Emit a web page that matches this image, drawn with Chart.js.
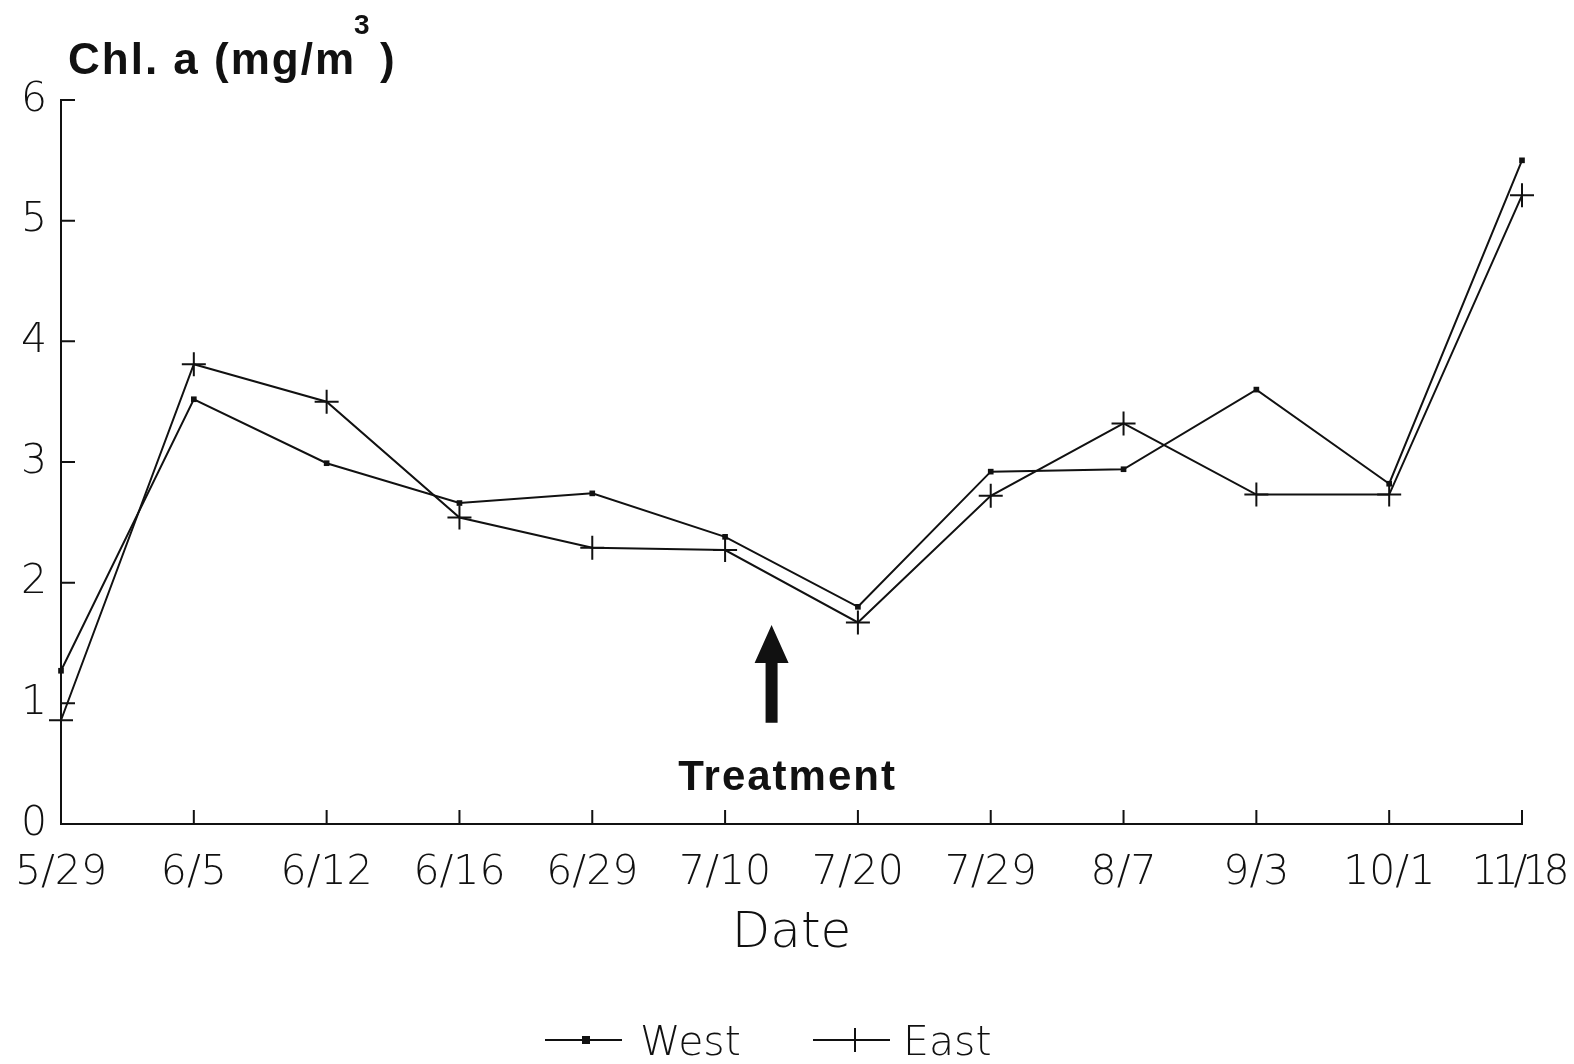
<!DOCTYPE html>
<html>
<head>
<meta charset="utf-8">
<script src="https://cdn.jsdelivr.net/npm/chart.js@4/dist/chart.umd.min.js"></script>
<style>
    html, body { margin: 0; padding: 0; background: #fff; }
    #wrap { width: 1574px; height: 1064px; position: relative; }
</style>
</head>
<body>
<div id="wrap"><canvas id="chl-chart"></canvas></div>
<script>
const DATES = ["5/29", "6/5", "6/12", "6/16", "6/29", "7/10", "7/20", "7/29", "8/7", "9/3", "10/1", "11/18"];
const WEST = [1.27, 3.52, 2.99, 2.66, 2.74, 2.38, 1.80, 2.92, 2.94, 3.60, 2.82, 5.50];
const EAST = [0.86, 3.81, 3.50, 2.54, 2.29, 2.27, 1.67, 2.72, 3.32, 2.73, 2.73, 5.21];
const Y_TICKS = [0, 1, 2, 3, 4, 5, 6];

const INK = "#111";
const LIGHT_FONT = "'DejaVu Sans', sans-serif";
const BOLD_FONT = "'Liberation Sans', Arial, sans-serif";
const LAST = DATES.length - 1;

// inward tick marks on both axes
const inwardTicks = {
    id: "inwardTicks",
    afterDraw(chart) {
        const ctx = chart.ctx;
        const x = chart.scales.x;
        const y = chart.scales.y;
        const area = chart.chartArea;
        ctx.save();
        ctx.strokeStyle = INK;
        ctx.lineWidth = 2;
        ctx.beginPath();
        x.ticks.forEach((t, i) => {
            const px = x.getPixelForTick(i);
            ctx.moveTo(px, area.bottom);
            ctx.lineTo(px, area.bottom - 14);
        });
        y.ticks.forEach((t, i) => {
            const py = y.getPixelForTick(i);
            ctx.moveTo(area.left, py);
            ctx.lineTo(area.left + 14, py);
        });
        ctx.stroke();

        // last date label sits against the canvas edge: redraw it a bit tighter
        const item = x.getLabelItems()[LAST];
        if (item) {
            const t = item.options.translation;
            ctx.translate(t[0], t[1]);
            ctx.rotate(item.options.rotation || 0);
            ctx.font = item.font.string;
            ctx.fillStyle = INK;
            ctx.textAlign = item.options.textAlign;
            ctx.textBaseline = item.options.textBaseline;
            ctx.letterSpacing = "-5px";
            ctx.fillText(item.label, -4, item.textOffset);
        }
        ctx.restore();
    }
};

// y-axis title with superscript, x title, treatment arrow and the legend row
const annotations = {
    id: "annotations",
    afterDraw(chart) {
        const ctx = chart.ctx;
        const x = chart.scales.x;
        const y = chart.scales.y;
        ctx.save();
        ctx.fillStyle = INK;
        ctx.textBaseline = "alphabetic";

        // title
        ctx.letterSpacing = "2px";
        ctx.font = "bold 44px " + BOLD_FONT;
        ctx.textAlign = "left";
        const base = "Chl. a (mg/m";
        ctx.fillText(base, 68, 74);
        const w = ctx.measureText(base).width;
        ctx.font = "bold 28px " + BOLD_FONT;
        ctx.fillText("3", 68 + w - 2, 34);
        ctx.font = "bold 44px " + BOLD_FONT;
        ctx.fillText(")", 68 + w + 24, 74);

        // treatment arrow between 7/10 and 7/20
        const ax = x.getPixelForValue(5) + (x.getPixelForValue(6) - x.getPixelForValue(5)) * 0.35;
        const tip = y.getPixelForValue(1.65);
        const tail = y.getPixelForValue(0.84);
        ctx.beginPath();
        ctx.moveTo(ax, tip);
        ctx.lineTo(ax + 17, tip + 38);
        ctx.lineTo(ax + 6, tip + 38);
        ctx.lineTo(ax + 6, tail);
        ctx.lineTo(ax - 6, tail);
        ctx.lineTo(ax - 6, tip + 38);
        ctx.lineTo(ax - 17, tip + 38);
        ctx.closePath();
        ctx.fill();

        ctx.font = "bold 42px " + BOLD_FONT;
        ctx.letterSpacing = "2px";
        ctx.textAlign = "center";
        ctx.fillText("Treatment", ax + 16, 790);
        ctx.letterSpacing = "0px";

        // x title
        ctx.font = "200 50px " + LIGHT_FONT;
        ctx.fillText("Date", (x.left + x.right) / 2, 947);

        // legend
        const ly = 1040;
        ctx.strokeStyle = INK;
        ctx.lineWidth = 2;
        ctx.beginPath();
        ctx.moveTo(545, ly);
        ctx.lineTo(622, ly);
        ctx.moveTo(813, ly);
        ctx.lineTo(890, ly);
        ctx.moveTo(855, ly - 12);
        ctx.lineTo(855, ly + 12);
        ctx.stroke();
        ctx.fillRect(582, ly - 4, 8, 8);

        ctx.font = "200 41px " + LIGHT_FONT;
        ctx.textAlign = "left";
        ctx.fillText("West", 640, ly + 15);
        ctx.fillText("East", 903, ly + 15);
        ctx.restore();
    }
};

const ctx = document.querySelector("#chl-chart").getContext("2d");
new Chart(ctx, {
    type: "line",
    data: {
        labels: DATES,
        datasets: [{
            label: "West",
            data: WEST,
            borderColor: INK,
            borderWidth: 2,
            backgroundColor: INK,
            pointStyle: "rect",
            pointRadius: 4,
            pointBorderWidth: 0,
            tension: 0
        }, {
            label: "East",
            data: EAST,
            borderColor: INK,
            borderWidth: 2,
            backgroundColor: INK,
            pointStyle: "cross",
            pointRadius: 12,
            pointBorderColor: INK,
            pointBorderWidth: 2,
            tension: 0
        }]
    },
    options: {
        responsive: true,
        maintainAspectRatio: false,
        animation: false,
        layout: {
            padding: { top: 100, right: 52, left: 0, bottom: 0 }
        },
        scales: {
            x: {
                type: "category",
                offset: false,
                grid: { display: false, drawTicks: false },
                border: { display: true, color: INK, width: 2 },
                ticks: {
                    color: (c) => c.index === LAST ? "rgba(0,0,0,0)" : INK,
                    font: { family: LIGHT_FONT, size: 41, weight: 200 },
                    padding: 25,
                    maxRotation: 0,
                    autoSkip: false
                },
                afterFit(scale) {
                    scale.height = 240;
                    scale.paddingLeft = 0;
                    scale.paddingRight = 0;
                }
            },
            y: {
                min: 0,
                max: 6,
                afterBuildTicks(scale) {
                    scale.ticks = Y_TICKS.map(v => ({ value: v }));
                },
                grid: { display: false, drawTicks: false },
                border: { display: true, color: INK, width: 2 },
                ticks: {
                    color: INK,
                    font: { family: LIGHT_FONT, size: 41, weight: 200 },
                    padding: 14
                },
                afterFit(scale) {
                    scale.width = 61;
                    scale.paddingTop = 0;
                    scale.paddingBottom = 0;
                }
            }
        },
        plugins: {
            legend: { display: false },
            tooltip: { enabled: false }
        }
    },
    plugins: [inwardTicks, annotations]
});
</script>
</body>
</html>
